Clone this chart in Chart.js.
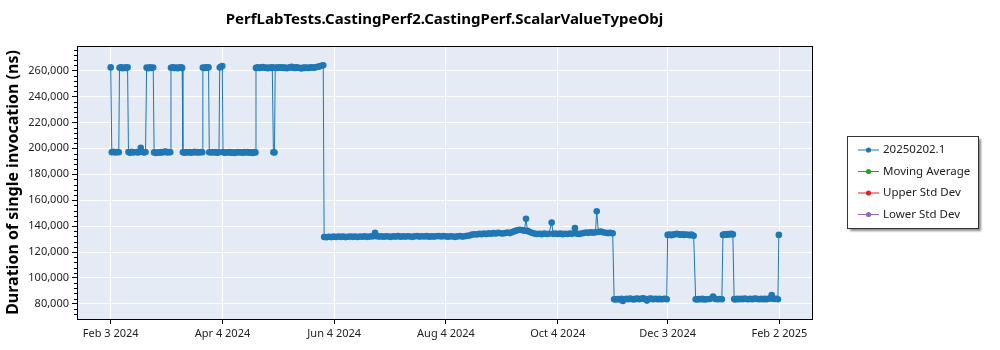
<!DOCTYPE html>
<html>
<head>
<meta charset="utf-8">
<script src="https://cdn.jsdelivr.net/npm/chart.js@4.4.1/dist/chart.umd.min.js"></script>
<style>
  body { margin: 0; background: #fff; }
  canvas { display: block; }
</style>
</head>
<body>
<canvas id="perf-chart" width="1000" height="350"></canvas>
<script>
// Run dates are kept as days since Feb 3 2024, durations in ns
const runDays = [
  0,
  0.6, 1.5, 2.5, 3.5, 4.4,
  4.8, 5.6, 6.5, 7.4, 8.3, 9.2,
  9.7, 10.6, 11.5, 12.4,
  14.0, 14.9, 15.8, 16.4, 17.2, 18.1, 19.0,
  19.6, 20.5, 21.4, 22.3, 23.2,
  23.7, 24.6, 25.5, 26.4, 27.3, 28.2, 29.1, 30.0, 30.9, 31.8, 32.5,
  32.9, 33.8, 34.7, 35.6, 36.5, 37.4, 38.3, 39.0,
  39.4, 40.3, 41.2, 42.1, 43.0, 43.9, 44.8, 45.7, 46.6, 47.5, 48.4, 49.3, 50.0,
  50.3, 51.1, 52.0, 52.9, 53.4,
  53.8, 54.7, 55.6, 56.5, 57.4, 58.3, 59.1,
  59.5, 60.2, 60.9,
  61.3, 62.2, 63.1, 64.0, 64.9, 65.8, 66.7, 67.6, 68.5, 69.4, 70.3, 71.2, 72.1, 73.0, 73.9, 74.8, 75.7, 76.6, 77.5, 78.4, 79.0,
  79.3, 80.2, 81.1, 82.0, 82.9, 83.8, 84.7, 85.6, 86.5, 87.4, 88.2,
  88.8, 89.4,
  89.8, 90.7, 91.6, 92.5, 93.4, 94.3, 95.2, 96.1, 97.0, 97.9, 98.8, 99.7, 100.6, 101.5, 102.4,
  103.3, 104.2, 105.1, 106.0, 106.9, 107.8, 108.7, 109.6, 110.5, 111.4, 112.3, 113.2, 114.1, 115.0, 116.0,
  116.5, 117.8, 119.1, 120.4, 121.7, 123.0, 124.3, 125.6, 126.9, 128.2, 129.5, 130.8, 132.1, 133.4, 134.7,
  136.0, 137.3, 138.6, 139.9, 141.2, 142.5, 143.6, 144.3, 145.2, 146.5, 147.8, 149.1, 150.4, 151.7, 153.0,
  154.3, 155.6, 156.9, 158.2, 159.5, 160.8, 162.1, 163.4, 164.7, 166.0, 167.3, 168.6, 169.9, 171.2, 172.5,
  173.8, 175.1, 176.4, 177.7, 179.0, 180.3, 181.6, 182.9, 184.2, 185.5, 186.8, 188.1, 189.4, 190.7, 192.0,
  193.3, 194.6, 195.9,
  197.2, 198.5, 199.8, 201.1, 202.4, 203.7, 205.0, 206.3, 207.6, 208.9, 210.2, 211.5, 212.8, 214.1, 215.4, 216.7, 218.0,
  219.3, 220.6, 221.9, 223.2, 224.5, 225.8, 226.7, 227.5, 228.8, 230.1,
  231.4, 232.7, 234.0, 235.3, 236.6, 237.9, 239.2, 240.7, 241.5, 242.8,
  244.1, 245.4, 246.7, 248.0, 249.3, 250.6, 251.9, 253.4, 254.3, 255.6, 256.9, 258.2, 259.5, 260.8, 262.1,
  263.4, 264.6, 265.3, 266.2, 267.5, 268.8, 270.1, 271.4, 272.7, 274.0,
  274.8, 275.8, 276.8, 277.8, 278.8, 279.5, 280.5, 281.5, 282.5, 283.5, 284.5, 285.5, 286.5, 287.5, 288.5,
  289.5, 290.5, 291.5, 292.7, 293.5, 294.5, 295.5, 296.5, 297.5, 298.5, 299.5, 300.5, 301.5, 302.5, 303.5,
  304.0, 305.0, 306.0, 307.0, 308.0, 309.0, 310.0, 311.0, 312.0, 313.0, 314.0, 315.0, 316.0, 317.0, 318.2,
  319.3, 320.2, 321.1, 322.0, 323.0, 324.0, 325.2, 327.0, 328.8, 330.0, 331.2, 332.4, 333.6,
  334.2, 335.1, 336.0, 336.9, 337.8, 338.7, 339.6,
  340.3, 341.0, 342.0, 343.0, 344.0, 345.0, 346.0, 347.0, 348.0, 349.0, 350.0, 351.0, 352.0,
  353.0, 354.0, 355.0, 356.0, 357.0, 358.0, 359.0, 360.0, 360.8, 361.6, 362.5, 363.4, 364.2,
  364.7
];

const durations = [
  262500,
  197000, 197400, 196800, 197200, 197000,
  262200, 262600, 261900, 262400, 262100, 262500,
  197100, 196700, 197300, 196900,
  197200, 196800, 197400, 200400, 197300, 196900, 197100,
  262300, 261800, 262500, 262000, 262400,
  196900, 196400, 197000, 196600, 197200, 196800, 197300, 197600, 196900, 197200, 197000,
  262200, 262600, 262000, 262400, 261900, 262300, 262500, 262100,
  197000, 196700, 197200, 196900, 197100, 196600, 197000, 197300, 196800, 197100, 196900, 197200, 197000,
  262300, 262000, 262500, 262200, 262600,
  197000, 196800, 197200, 196900, 197100, 196700, 197000,
  262400, 263000, 263600,
  197100, 196700, 197000, 196800, 197200, 196600, 197000, 196500, 196900, 197200, 196800, 197000, 196600, 197100, 196900, 197200, 196700, 197000, 196500, 197100, 196900,
  262100, 262500, 262000, 262400, 262700, 262200, 262400, 261900, 262300, 262100, 262500,
  197000, 196800,
  262300, 262000, 262500, 262200, 262600, 262100, 262400, 261800, 262200, 262500, 262900, 262300, 262100, 262500, 262200,
  262000, 261700, 262300, 262100, 262400, 262000, 262300, 262600, 262200, 262400, 262700, 263000, 263300, 263700, 264200,
  131600, 131400, 131800, 131500, 131900, 131600, 132000, 131700, 131900, 131500, 131800, 132000, 131700, 131900, 131600,
  132000, 131800, 132100, 131700, 131900, 132100, 132300, 134800, 132200, 131900, 132100, 131800, 132200, 131900, 131700,
  132100, 131900, 132300, 131800, 132100, 131900, 132200, 132000, 131700, 132100, 132300, 131900, 132200, 132000, 132300,
  131800, 132100, 131900, 132200, 132400, 132000, 132300, 132100, 131800, 132200, 132000, 131700, 132100, 132300, 131900,
  132200, 132500, 132800,
  133400, 133700, 133500, 134000, 133800, 134200, 133900, 134400, 134100, 134600, 134300, 134800, 134500, 134300, 134700, 135000, 134600,
  135400, 136100, 136800, 137200, 136900, 136500, 145700, 136300, 135500, 134700,
  134200, 133900, 134100, 133800, 134200, 133900, 134100, 142700, 134000, 134300,
  133900, 134200, 133800, 134100, 133900, 134300, 134000, 138400, 134200, 133900, 134300, 134700, 135100, 134800, 135300,
  134900, 135200, 151500, 135500, 135800, 135300, 134900, 134600, 134800, 134500,
  83600, 83300, 83700, 83400, 83800, 82200, 83500, 83900, 83600, 84000, 83700, 83400, 83800, 84100, 83600,
  83900, 84300, 83800, 82500, 83700, 84100, 83800, 83500, 83900, 83600, 83800, 83500, 83700, 83900, 83600,
  133200, 133500, 133000, 133400, 133700, 134100, 133600, 133300, 133600, 133200, 133500, 133300, 133000, 133400, 132600,
  83600, 83300, 83700, 83500, 83800, 83400, 83600, 83700, 85600, 83800, 83500, 83700, 83600,
  133200, 133600, 133300, 133800, 133500, 134000, 133600,
  83700, 83400, 83800, 83500, 83900, 83600, 84000, 83700, 83500, 83900, 83600, 83800, 84100,
  83700, 83500, 83900, 83600, 83800, 83500, 83900, 84200, 86800, 84000, 83700, 83900, 83600,
  133200
];

const xTickDays = [0, 61, 122, 183, 244, 304, 365];
const xTickLabels = ['Feb 3 2024', 'Apr 4 2024', 'Jun 4 2024', 'Aug 4 2024', 'Oct 4 2024', 'Dec 3 2024', 'Feb 2 2025'];
const yTicks = [80000, 100000, 120000, 140000, 160000, 180000, 200000, 220000, 240000, 260000];

const seriesNames = ['20250202.1', 'Moving Average', 'Upper Std Dev', 'Lower Std Dev'];
const seriesColors = ['#1f77b4', '#2ca02c', '#d62728', '#9467bd'];

Chart.defaults.font.family = '"Noto Sans", "DejaVu Sans", sans-serif';
Chart.defaults.color = '#222';

const points = runDays.map((d, i) => ({ x: d, y: durations[i] }));

// plot background + frame + minor ticks on the y axis
const plotDecor = {
  id: 'plotDecor',
  beforeDraw(chart) {
    const { ctx, chartArea: a } = chart;
    ctx.save();
    ctx.fillStyle = '#fff';
    ctx.fillRect(0, 0, chart.width, chart.height);
    ctx.fillStyle = '#e5ebf5';
    ctx.fillRect(a.left, a.top, a.right - a.left, a.bottom - a.top);
    ctx.restore();
  },
  afterDraw(chart) {
    const { ctx, chartArea: a } = chart;
    const ys = chart.scales.y;
    ctx.save();
    ctx.strokeStyle = '#000';
    ctx.lineWidth = 1;
    ctx.strokeRect(Math.round(a.left) + 0.5, Math.round(a.top) + 0.5,
      Math.round(a.right - a.left), Math.round(a.bottom - a.top));
    ctx.beginPath();
    for (let v = 72000; v < ys.max; v += 4000) {
      if (v % 20000 === 0) continue;
      const py = Math.round(ys.getPixelForValue(v)) + 0.5;
      ctx.moveTo(a.left - 3, py);
      ctx.lineTo(a.left, py);
    }
    ctx.stroke();
    ctx.restore();
  }
};

// legend box at the right, with a drop shadow
const boxLegend = {
  id: 'boxLegend',
  afterDraw(chart) {
    const ctx = chart.ctx;
    const bx = 847, by = 136, bw = 131, bh = 92;
    ctx.save();
    ctx.shadowColor = 'rgba(0,0,0,0.45)';
    ctx.shadowOffsetX = 3;
    ctx.shadowOffsetY = 3;
    ctx.shadowBlur = 2;
    ctx.fillStyle = '#fff';
    ctx.fillRect(bx, by, bw, bh);
    ctx.restore();
    ctx.save();
    ctx.strokeStyle = '#333';
    ctx.lineWidth = 1;
    ctx.strokeRect(bx + 0.5, by + 0.5, bw, bh);
    ctx.font = '11.5px "Noto Sans", sans-serif';
    ctx.textBaseline = 'middle';
    chart.data.datasets.forEach((ds, i) => {
      const ry = by + 14 + i * 21.5;
      ctx.strokeStyle = ds.borderColor;
      ctx.fillStyle = ds.borderColor;
      ctx.beginPath();
      ctx.moveTo(bx + 11, ry);
      ctx.lineTo(bx + 32, ry);
      ctx.stroke();
      ctx.beginPath();
      ctx.arc(bx + 21.5, ry, 2.6, 0, Math.PI * 2);
      ctx.fill();
      ctx.fillStyle = '#222';
      ctx.fillText(ds.label, bx + 36, ry);
    });
    ctx.restore();
  }
};

new Chart(document.getElementById('perf-chart'), {
  type: 'line',
  data: {
    datasets: seriesNames.map((name, i) => ({
      label: name,
      data: i === 0 ? points : [],
      borderColor: seriesColors[i],
      backgroundColor: seriesColors[i],
      borderWidth: 1,
      pointRadius: 3.3,
      pointHoverRadius: 3.3,
      pointBorderWidth: 0,
      tension: 0
    }))
  },
  options: {
    responsive: false,
    animation: false,
    events: [],
    layout: { padding: { left: 0, right: 188, top: 0, bottom: 0 } },
    plugins: {
      legend: { display: false },
      tooltip: { enabled: false },
      title: {
        display: true,
        fullSize: false,
        text: 'PerfLabTests.CastingPerf2.CastingPerf.ScalarValueTypeObj',
        color: '#000',
        font: { size: 15, weight: 'bold' },
        padding: { top: 11, bottom: 17 }
      }
    },
    scales: {
      x: {
        type: 'linear',
        min: -18.4,
        max: 382.8,
        afterBuildTicks: s => { s.ticks = xTickDays.map(v => ({ value: v })); },
        afterFit: s => { s.height = 31; },
        grid: { color: '#fff', lineWidth: 1, tickColor: '#000', tickLength: 5 },
        border: { color: '#000', width: 1 },
        ticks: {
          maxRotation: 0,
          autoSkip: false,
          padding: 3,
          font: { size: 11 },
          callback: v => xTickLabels[xTickDays.indexOf(v)]
        }
      },
      y: {
        min: 68300,
        max: 279000,
        afterBuildTicks: s => { s.ticks = yTicks.map(v => ({ value: v })); },
        afterFit: s => { s.width = 77; },
        grid: { color: '#fff', lineWidth: 1, tickColor: '#000', tickLength: 5 },
        border: { color: '#000', width: 1 },
        title: {
          display: true,
          text: 'Duration of single invocation (ns)',
          color: '#000',
          font: { size: 16, weight: 'bold' },
          padding: { top: 4, bottom: 0 }
        },
        ticks: {
          padding: 3,
          font: { size: 11 },
          callback: v => v.toLocaleString('en-US')
        }
      }
    }
  },
  plugins: [plotDecor, boxLegend]
});
</script>
</body>
</html>
